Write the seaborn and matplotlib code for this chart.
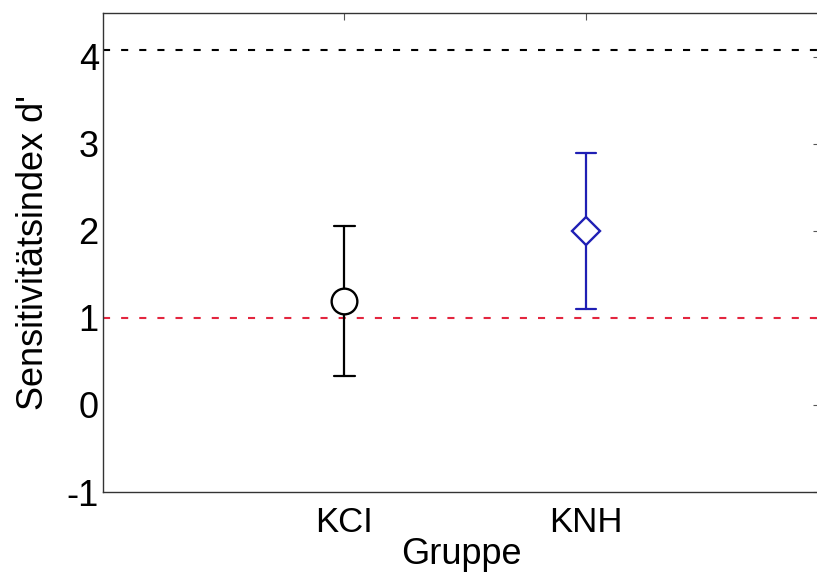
"""Sensitivitätsindex d' je Gruppe: Median mit Spannweite, dazu zwei Referenzlinien."""

import matplotlib
matplotlib.use("Agg")
import matplotlib.pyplot as plt
import pandas as pd
import seaborn as sns

# Werte
GROUPS = ["KCI", "KNH"]
CENTER = [1.19, 2.00]
LOWER = [0.33, 1.10]
UPPER = [2.05, 2.89]
REF_TOP = 4.07      # schwarze gestrichelte Linie
REF_CHANCE = 1.0    # rote gestrichelte Linie
YTICKS = [-1, 0, 1, 2, 3, 4]

COLORS = {"KCI": "#000000", "KNH": "#1f1fb4"}
MARKERS = ["o", "D"]


def main() -> None:
    sns.set_style("white")
    plt.rcParams["font.family"] = ["Liberation Sans", "DejaVu Sans"]
    plt.rcParams["axes.unicode_minus"] = False
    plt.rcParams["text.color"] = "black"
    plt.rcParams["axes.labelcolor"] = "black"

    # Median von [unten, Mitte, oben] = Mitte, Spannweite = Fehlerbalken
    rows = []
    for g, lo, c, hi in zip(GROUPS, LOWER, CENTER, UPPER):
        for v in (lo, c, hi):
            rows.append({"Gruppe": g, "d": v})
    df = pd.DataFrame(rows)

    fig = plt.figure(figsize=(8.17, 5.77), dpi=100)
    ax = fig.add_axes([103 / 817, 85 / 577, 717 / 817, 479 / 577])

    ax.axhline(REF_TOP, color="black", lw=1.5, ls=(0, (3.4, 5.3)), zorder=1)
    ax.axhline(REF_CHANCE, color="#e3263f", lw=1.5, ls=(0, (3.4, 5.3)), zorder=1)

    sns.pointplot(data=df, x="Gruppe", y="d", hue="Gruppe", order=GROUPS,
                  hue_order=GROUPS, palette=COLORS, markers=MARKERS,
                  linestyles="none", estimator="median", errorbar=("pi", 100),
                  capsize=0.085, err_kws={"linewidth": 1.6}, markersize=18.5,
                  markeredgewidth=1.7, dodge=False, legend=False, ax=ax)
    for line in ax.lines:
        if line.get_marker() in ("o", "D"):
            line.set_markerfacecolor("white")
            line.set_zorder(5)
            if line.get_marker() == "D":
                line.set_markersize(14.5)

    ax.set_xlim(-1.0, 1.97)
    ax.set_ylim(-1, 4.5)
    ax.set_yticks(YTICKS)
    ax.set_xlabel("Gruppe", fontsize=26, labelpad=-1)
    ax.set_ylabel("Sensitivitätsindex d'", fontsize=26, labelpad=11)
    ax.tick_params(axis="both", direction="in", length=5, width=0.8,
                   top=True, right=True, color="#555555", labelcolor="black")
    ax.tick_params(axis="x", pad=10, labelsize=25)
    ax.tick_params(axis="y", pad=3, labelsize=26)
    for s in ax.spines.values():
        s.set_color("#333333")
        s.set_linewidth(1.0)

    fig.savefig("out.png", dpi=100, facecolor="white")
    plt.close(fig)


if __name__ == "__main__":
    main()
